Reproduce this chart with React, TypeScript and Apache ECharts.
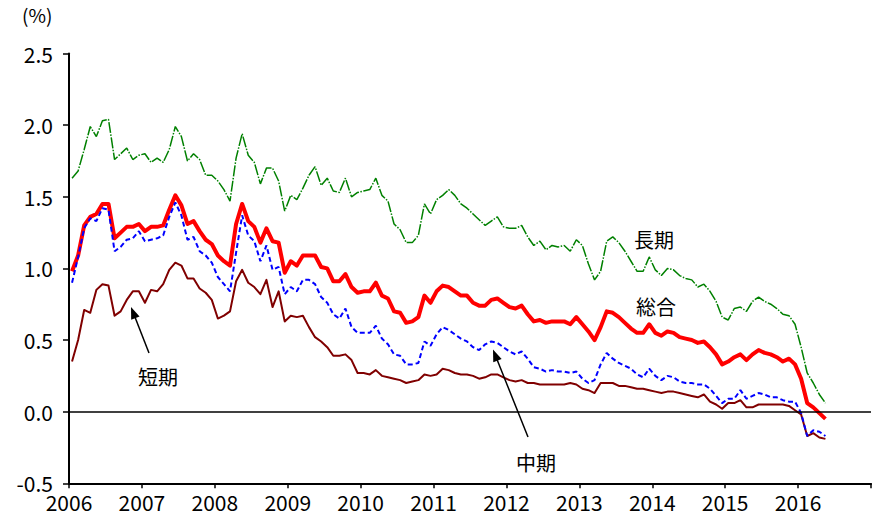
import React, { useEffect, useRef } from 'react';
import * as echarts from 'echarts';

const yearLabels = ['2006', '2007', '2008', '2009', '2010', '2011', '2012', '2013', '2014', '2015', '2016'];
const yTicks = [-0.5, 0, 0.5, 1.0, 1.5, 2.0, 2.5];

// Monthly values, Jan 2006 - May 2016 (%)
const longTerm = [
  1.63, 1.68, 1.83, 1.99, 1.92, 2.03, 2.04, 1.76, 1.80, 1.84, 1.76, 1.79,
  1.80, 1.74, 1.77, 1.74, 1.83, 1.99, 1.92, 1.75, 1.80, 1.76, 1.65, 1.65,
  1.61, 1.55, 1.47, 1.77, 1.94, 1.79, 1.74, 1.59, 1.70, 1.70, 1.61, 1.40,
  1.51, 1.48, 1.56, 1.65, 1.71, 1.58, 1.63, 1.54, 1.53, 1.63, 1.50, 1.53,
  1.54, 1.55, 1.63, 1.51, 1.47, 1.31, 1.27, 1.18, 1.18, 1.23, 1.45, 1.38,
  1.48, 1.51, 1.55, 1.51, 1.45, 1.42, 1.38, 1.34, 1.30, 1.33, 1.36, 1.29,
  1.28, 1.28, 1.30, 1.22, 1.16, 1.19, 1.13, 1.16, 1.15, 1.16, 1.12, 1.20,
  1.16, 1.03, 0.92, 0.98, 1.19, 1.22, 1.18, 1.12, 1.05, 0.98, 0.98, 1.08,
  0.99, 0.95, 1.00, 0.99, 0.95, 0.93, 0.92, 0.87, 0.89, 0.84, 0.77, 0.66,
  0.64, 0.72, 0.73, 0.70, 0.77, 0.80, 0.77, 0.75, 0.72, 0.68, 0.67, 0.61,
  0.45, 0.27, 0.20, 0.12, 0.06,
];
const total = [
  0.98, 1.09, 1.30, 1.36, 1.38, 1.45, 1.45, 1.21, 1.25, 1.29, 1.29, 1.31,
  1.26, 1.29, 1.29, 1.30, 1.41, 1.51, 1.44, 1.31, 1.33, 1.26, 1.20, 1.17,
  1.09, 1.05, 1.02, 1.31, 1.45, 1.33, 1.29, 1.18, 1.28, 1.19, 1.18, 0.97,
  1.05, 1.02, 1.09, 1.09, 1.09, 1.01, 1.00, 0.91, 0.91, 0.96, 0.87, 0.83,
  0.84, 0.84, 0.90, 0.81, 0.79, 0.70, 0.69, 0.62, 0.63, 0.66, 0.81, 0.76,
  0.84, 0.88, 0.87, 0.84, 0.81, 0.81, 0.76, 0.74, 0.74, 0.78, 0.79, 0.76,
  0.73, 0.72, 0.74, 0.68, 0.63, 0.64, 0.62, 0.63, 0.63, 0.63, 0.61, 0.66,
  0.61, 0.56, 0.50, 0.59, 0.70, 0.69, 0.66, 0.62, 0.58, 0.55, 0.55, 0.61,
  0.55, 0.53, 0.56, 0.55, 0.52, 0.51, 0.50, 0.48, 0.49, 0.45, 0.40, 0.33,
  0.35, 0.38, 0.40, 0.36, 0.40, 0.43, 0.41, 0.40, 0.38, 0.35, 0.37, 0.33,
  0.23, 0.06, 0.03, -0.01, -0.05,
];
const midTerm = [
  0.90, 1.08, 1.28, 1.35, 1.33, 1.42, 1.41, 1.12, 1.15, 1.20, 1.21, 1.26,
  1.19, 1.20, 1.21, 1.23, 1.36, 1.46, 1.37, 1.20, 1.22, 1.12, 1.09, 1.04,
  0.94, 0.89, 0.84, 1.11, 1.37, 1.23, 1.19, 1.05, 1.16, 0.99, 1.01, 0.82,
  0.87, 0.84, 0.92, 0.92, 0.89, 0.80, 0.76, 0.68, 0.65, 0.72, 0.59, 0.55,
  0.55, 0.55, 0.60, 0.51, 0.47, 0.40, 0.39, 0.33, 0.33, 0.34, 0.49, 0.46,
  0.54, 0.59, 0.57, 0.54, 0.51, 0.49, 0.45, 0.43, 0.47, 0.49, 0.48, 0.45,
  0.42, 0.40, 0.42, 0.37, 0.31, 0.30, 0.28, 0.29, 0.28, 0.28, 0.27, 0.28,
  0.23, 0.20, 0.22, 0.33, 0.41, 0.37, 0.34, 0.32, 0.30, 0.26, 0.24, 0.30,
  0.25, 0.22, 0.25, 0.24, 0.21, 0.20, 0.20, 0.19, 0.19, 0.16, 0.11, 0.06,
  0.09, 0.09, 0.15, 0.09, 0.11, 0.13, 0.12, 0.10, 0.10, 0.08, 0.07, 0.07,
  -0.01, -0.17, -0.13, -0.14, -0.17,
];
const shortTerm = [
  0.35, 0.50, 0.71, 0.69, 0.85, 0.89, 0.88, 0.67, 0.70, 0.78, 0.84, 0.84,
  0.76, 0.85, 0.84, 0.89, 0.99, 1.04, 1.02, 0.93, 0.93, 0.86, 0.83, 0.78,
  0.65, 0.67, 0.70, 0.91, 0.99, 0.90, 0.87, 0.82, 0.92, 0.73, 0.84, 0.63,
  0.67, 0.66, 0.67, 0.59, 0.52, 0.49, 0.45, 0.39, 0.39, 0.40, 0.36, 0.27,
  0.27, 0.26, 0.29, 0.25, 0.24, 0.23, 0.22, 0.20, 0.21, 0.22, 0.26, 0.25,
  0.26, 0.30, 0.29, 0.27, 0.26, 0.26, 0.25, 0.23, 0.24, 0.26, 0.26, 0.24,
  0.22, 0.21, 0.22, 0.20, 0.20, 0.19, 0.19, 0.19, 0.19, 0.19, 0.20, 0.19,
  0.16, 0.15, 0.13, 0.20, 0.20, 0.20, 0.18, 0.18, 0.17, 0.16, 0.16, 0.15,
  0.14, 0.13, 0.14, 0.14, 0.13, 0.12, 0.11, 0.10, 0.12, 0.07, 0.05, 0.02,
  0.06, 0.06, 0.08, 0.03, 0.03, 0.05, 0.05, 0.05, 0.05, 0.05, 0.04, 0.01,
  -0.02, -0.17, -0.15, -0.18, -0.19,
];

const AXIS_FONT = "'Liberation Sans Narrow', 'Noto Sans CJK JP', sans-serif";
const CJK_FONT = "'Noto Sans CJK JP', 'Noto Sans', sans-serif";

// monthly points placed at the middle of each month slot
const toPoints = (arr: number[]) => arr.map((v, i) => [i + 0.5, v]);

function arrow(x1: number, y1: number, x2: number, y2: number) {
  const dx = x2 - x1;
  const dy = y2 - y1;
  const len = Math.sqrt(dx * dx + dy * dy);
  const ux = dx / len;
  const uy = dy / len;
  const headLen = 12;
  const headHalf = 4.5;
  const bx = x2 - ux * headLen;
  const by = y2 - uy * headLen;
  return [
    {
      type: 'line',
      shape: { x1, y1, x2: bx + ux * 2, y2: by + uy * 2 },
      style: { stroke: '#000', lineWidth: 1.5 },
      z: 100,
    },
    {
      type: 'polygon',
      shape: {
        points: [
          [x2, y2],
          [bx - uy * headHalf, by + ux * headHalf],
          [bx + uy * headHalf, by - ux * headHalf],
        ],
      },
      style: { fill: '#000' },
      z: 100,
    },
  ];
}

function label(text: string, x: number, y: number) {
  return {
    type: 'text',
    x,
    y,
    style: {
      text,
      fill: '#000',
      font: `20px ${CJK_FONT}`,
      textAlign: 'center',
      textVerticalAlign: 'middle',
    },
    z: 100,
  };
}

export default function App() {
  const ref = useRef<HTMLDivElement>(null);

  useEffect(() => {
    if (!ref.current) return;
    const chart = echarts.init(ref.current, null, { renderer: 'svg' });
    chart.setOption({
      animation: false,
      backgroundColor: '#ffffff',
      grid: { left: 69, right: 1, top: 53.5, bottom: 36.7, containLabel: false },
      xAxis: {
        type: 'value',
        min: 0,
        max: yearLabels.length * 12,
        interval: 12,
        axisLine: { show: true, onZero: false, lineStyle: { color: '#000', width: 2 } },
        axisTick: { show: true, length: 5, lineStyle: { color: '#000', width: 1.5 } },
        axisLabel: {
          formatter: (v: number) => yearLabels[Math.round(v / 12)] ?? '',
          margin: 8,
          color: '#000',
          fontSize: 21,
          fontFamily: AXIS_FONT,
        },
        splitLine: { show: false },
      },
      yAxis: {
        type: 'value',
        min: yTicks[0],
        max: yTicks[yTicks.length - 1],
        interval: 0.5,
        axisLine: { show: true, onZero: false, lineStyle: { color: '#000', width: 2 } },
        axisTick: { show: true, length: 6, lineStyle: { color: '#000', width: 1.5 } },
        axisLabel: {
          formatter: (v: number) => v.toFixed(1),
          margin: 16,
          color: '#000',
          fontSize: 21,
          fontFamily: AXIS_FONT,
        },
        splitLine: { show: false },
      },
      series: [
        {
          name: '総合',
          type: 'line',
          data: toPoints(total),
          showSymbol: false,
          lineStyle: { color: '#ff0000', width: 4, join: 'round' },
          z: 2,
          markLine: {
            silent: true,
            symbol: ['none', 'none'],
            label: { show: false },
            lineStyle: { color: '#000', width: 1.5, type: 'solid' },
            data: [{ yAxis: 0 }],
          },
        },
        {
          name: '短期',
          type: 'line',
          data: toPoints(shortTerm),
          showSymbol: false,
          lineStyle: { color: '#800000', width: 2, join: 'round' },
          z: 3,
        },
        {
          name: '中期',
          type: 'line',
          data: toPoints(midTerm),
          showSymbol: false,
          lineStyle: { color: '#0000ff', width: 2, type: [5, 3] },
          z: 4,
        },
        {
          name: '長期',
          type: 'line',
          data: toPoints(longTerm),
          showSymbol: false,
          lineStyle: { color: '#008000', width: 1.5, type: [11, 1.5, 1.5, 1.5] },
          z: 5,
        },
      ],
      graphic: [
        {
          type: 'text',
          x: 22,
          y: 14,
          style: {
            text: '(%)',
            fill: '#000',
            font: `19px ${CJK_FONT}`,
            textAlign: 'left',
            textVerticalAlign: 'middle',
          },
        },
        label('長期', 654, 239),
        label('総合', 656, 306),
        label('短期', 158, 376),
        label('中期', 536, 462),
        ...arrow(149, 353, 131, 307),
        ...arrow(528, 437, 493, 349.5),
      ],
    });
    return () => chart.dispose();
  }, []);

  return (
    <div
      ref={ref}
      style={{ position: 'fixed', left: 0, top: 0, width: 874, height: 520 }}
    />
  );
}
